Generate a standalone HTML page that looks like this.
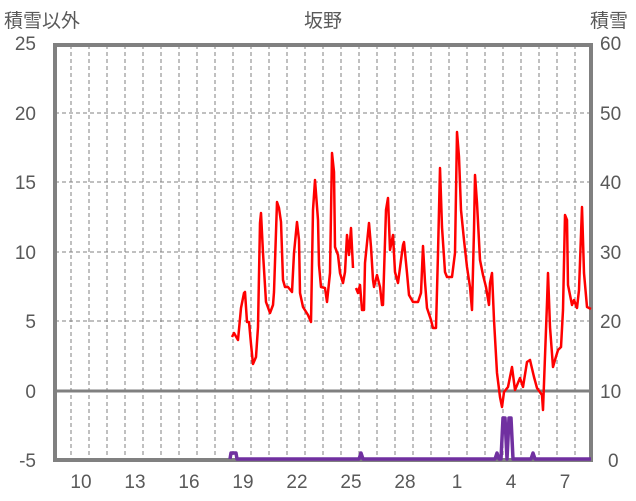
<!DOCTYPE html><html><head><meta charset="utf-8"><style>body{margin:0;background:#fff}svg{display:block}text{font-family:"Liberation Sans","Noto Sans CJK JP",sans-serif;fill:#595959;font-size:19px}</style></head><body>
<svg width="636" height="501" xmlns="http://www.w3.org/2000/svg">
<g stroke="#808080" stroke-width="1" stroke-dasharray="4,3">
<path d="M71 45V458M89 45V458M107 45V458M125 45V458M143 45V458M161 45V458M179 45V458M197 45V458M215 45V458M233 45V458M251 45V458M269 45V458M287 45V458M305 45V458M323 45V458M341 45V458M359 45V458M377 45V458M395 45V458M413 45V458M431 45V458M449 45V458M467 45V458M485 45V458M503 45V458M521 45V458M539 45V458M557 45V458M575 45V458"/>
<path d="M55 113H589M55 182H589M55 252H589M55 321H589"/>
</g>
<line x1="55" y1="391" x2="589" y2="391" stroke="#808080" stroke-width="3"/>
<rect x="55" y="45" width="536" height="415" fill="none" stroke="#808080" stroke-width="4"/>
<polyline fill="none" stroke="#f00" stroke-width="2.5" stroke-linejoin="round" points="232,337 234,333 238,340 241,308 244,293 245,292 247,322 249,322 251,344 253,364 256,357 258,327 260,223 261,213 263,253 266,302 270,313 273,305 274,292 277,202 279,208 281,222 283,280 285,287 288,287 292,292 294,253 297,222 299,240 300,293 303,307 308,315 311,322 313,210 315,180 318,220 319,265 321,287 325,288 327,302 330,273 332,153 334,172 335,247 338,255 340,273 343,283 345,272 347,235 349,255 351,228 353,268"/>
<polyline fill="none" stroke="#f00" stroke-width="2.5" stroke-linejoin="round" points="356,288 358,293 360,285 362,310 364,310 365,263 369,223 371,247 373,280 374,287 377,275 380,287 382,305 383,305 386,210 388,198 390,250 393,235 395,272 398,283 403,245 404,242 407,273 409,295 413,302 418,302 421,293 423,246 425,282 427,308 431,320 433,328 436,328 438,253 440,168 442,227 445,272 447,277 452,277 455,253 457,132 459,157 461,210 464,240 467,267 470,287 472,310 474,230 475,175 477,203 480,260 483,275 486,287 489,305 490,283 492,273 494,320 497,373 500,397 502,407 504,392 508,387 512,367 515,390 520,378 523,387 527,362 530,360 534,377 537,388 542,395 543,410 547,303 548,273 550,327 553,367 555,360 558,350 561,347 563,310 565,215 567,220 568,285 572,305 574,300 577,308 579,290 582,207 584,273 587,307 591,309"/>
<polyline fill="none" stroke="#7030a0" stroke-width="3.5" stroke-linejoin="round" points="230,459 231,453 234,453 236,453 237,459 359,459 361,453 363,459 495,459 497,453 499,459 501,459 503,418 505,418 507,459 509,418 511,418 513,459 531,459 533,453 535,459 591,459"/>
<text x="4" y="27">積雪以外</text>
<text x="304" y="27">坂野</text>
<text x="590" y="27">積雪</text>
<g text-anchor="end"><text x="36" y="50">25</text><text x="36" y="120">20</text><text x="36" y="189">15</text><text x="36" y="259">10</text><text x="36" y="328">5</text><text x="36" y="398">0</text><text x="36" y="467">-5</text></g>
<g text-anchor="start"><text x="600" y="50">60</text><text x="600" y="120">50</text><text x="600" y="189">40</text><text x="600" y="259">30</text><text x="600" y="328">20</text><text x="600" y="398">10</text><text x="608" y="467">0</text></g>
<g text-anchor="middle"><text x="81" y="488">10</text><text x="135" y="488">13</text><text x="189" y="488">16</text><text x="243" y="488">19</text><text x="297" y="488">22</text><text x="351" y="488">25</text><text x="405" y="488">28</text><text x="457" y="488">1</text><text x="511" y="488">4</text><text x="565" y="488">7</text></g>
</svg></body></html>
